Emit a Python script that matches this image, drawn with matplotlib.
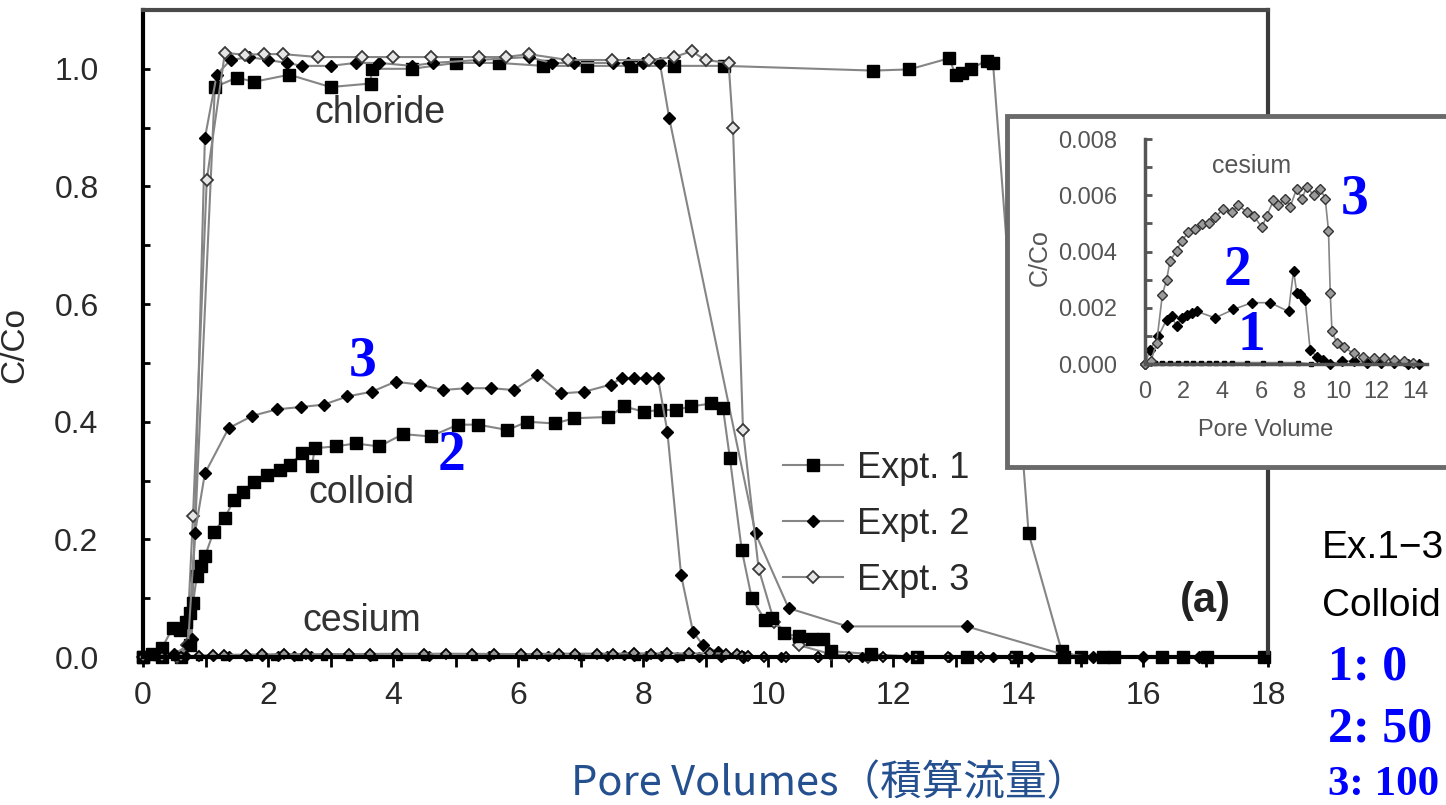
import matplotlib
matplotlib.use('Agg')
import matplotlib.pyplot as plt
from matplotlib.patches import Rectangle
from matplotlib.ticker import MultipleLocator

plt.rcParams['font.family'] = ['Liberation Sans', 'DejaVu Sans']

# ---- main plot data ----
# chloride
cl1_x = [0, 0.3, 0.6, 0.75, 1.15, 1.5, 1.78, 2.34, 3.0, 3.64, 3.66, 4.3, 5.0, 5.7, 6.4, 7.1, 7.8, 8.5, 9.3,
         11.68, 12.26, 12.9, 13.0, 13.11, 13.24, 13.5, 13.6, 14.17, 14.7, 15.0, 15.36, 15.53, 16.31, 16.64, 17.02, 17.94]
cl1_y = [0, 0, 0, 0.02, 0.969, 0.985, 0.978, 0.99, 0.969, 0.975, 1.0, 1.0, 1.01, 1.01, 1.005, 1.005, 1.005, 1.005, 1.005,
         0.997, 0.999, 1.018, 0.99, 0.993, 1.0, 1.014, 1.01, 0.21, 0.01, 0, 0, 0, 0, 0, 0, 0]
cl2_x = [0, 0.3, 0.6, 0.78, 0.99, 1.18, 1.4, 1.7, 2.0, 2.3, 2.55, 3.0, 3.4, 3.78, 4.3, 4.64, 5.37, 6.17, 6.54, 6.9,
         7.52, 7.76, 8.0, 8.27, 8.42, 9.8, 10.33, 11.27, 13.18, 14.7, 15.2, 16.0, 16.9]
cl2_y = [0, 0, 0, 0.03, 0.882, 0.99, 1.015, 1.02, 1.015, 1.01, 1.005, 1.005, 1.01, 1.01, 1.005, 1.01, 1.015, 1.02, 1.01, 1.01,
         1.01, 1.01, 1.01, 1.01, 0.916, 0.21, 0.083, 0.052, 0.052, 0.005, 0, 0, 0]
cl3_x = [0, 0.3, 0.55, 0.7, 0.8, 1.02, 1.31, 1.63, 1.94, 2.24, 2.8, 3.5, 4.0, 4.6, 5.37, 5.8, 6.17, 6.8, 7.5, 8.1,
         8.5, 8.78, 9.0, 9.37, 9.44, 9.6, 9.85, 10.1, 10.5, 11.0, 11.6]
cl3_y = [0, 0, 0, 0.02, 0.239, 0.811, 1.027, 1.024, 1.025, 1.025, 1.02, 1.02, 1.02, 1.02, 1.02, 1.02, 1.025, 1.015, 1.015, 1.015,
         1.02, 1.03, 1.015, 1.01, 0.899, 0.386, 0.15, 0.06, 0.02, 0.005, 0]

# colloid (lower curve, squares / upper curve, filled diamonds)
col_lo_x = [0.0, 0.15, 0.3, 0.48, 0.59, 0.68, 0.75, 0.8, 0.86, 0.93, 0.99, 1.13, 1.31, 1.45, 1.6, 1.77, 1.98, 2.19, 2.35,
            2.54, 2.7, 2.75, 3.08, 3.4, 3.78, 4.16, 4.6, 5.04, 5.36, 5.83, 6.15, 6.59, 6.9, 7.44, 7.7, 8.01, 8.27, 8.52,
            8.77, 9.09, 9.28, 9.39, 9.58, 9.74, 9.95, 10.06, 10.25, 10.5, 10.7, 10.88, 11.0, 11.64, 12.39, 13.18, 13.96, 14.74]
col_lo_y = [0, 0.005, 0.015, 0.05, 0.046, 0.06, 0.075, 0.091, 0.137, 0.155, 0.171, 0.213, 0.236, 0.267, 0.281, 0.298, 0.31,
            0.318, 0.327, 0.346, 0.324, 0.355, 0.358, 0.363, 0.358, 0.379, 0.375, 0.395, 0.395, 0.386, 0.40, 0.397, 0.406,
            0.408, 0.426, 0.417, 0.42, 0.42, 0.426, 0.431, 0.423, 0.338, 0.182, 0.1, 0.063, 0.066, 0.04, 0.035, 0.03,
            0.03, 0.01, 0.005, 0, 0, 0, 0]
col_hi_x = [0, 0.3, 0.5, 0.72, 0.83, 0.99, 1.37, 1.75, 2.14, 2.52, 2.89, 3.27, 3.66, 4.04, 4.43, 4.8, 5.18, 5.56, 5.93,
            6.31, 6.68, 7.06, 7.48, 7.66, 7.86, 8.05, 8.24, 8.39, 8.61, 8.8, 8.96, 9.2, 9.6]
col_hi_y = [0, 0, 0.005, 0.02, 0.21, 0.312, 0.389, 0.41, 0.421, 0.425, 0.429, 0.443, 0.451, 0.468, 0.463, 0.454, 0.457,
            0.457, 0.454, 0.48, 0.448, 0.451, 0.463, 0.474, 0.474, 0.474, 0.474, 0.383, 0.139, 0.043, 0.02, 0.008, 0]

# cesium (inset scale)
cs1_x = [0.0, 0.2, 0.5, 0.9, 1.3, 1.7, 2.1, 2.5, 2.9, 3.3, 3.7, 4.1, 4.5, 5.3, 6.1, 7.0, 7.9, 8.6]
cs1_y = [0, 0.00005, 0.00005, 0.00005, 0.00005, 0.00005, 0.00005, 0.00005, 0.00005, 0.00005, 0.00005, 0.00005,
         0.00005, 0.00005, 0.00005, 0.00005, 0.00005, 0]
cs2_x = [0, 0.26, 0.69, 1.12, 1.38, 1.64, 1.9, 2.16, 2.42, 2.68, 3.63, 4.58, 5.53, 6.48, 7.43, 7.69, 7.86, 8.04, 8.29,
         8.55, 8.9, 9.24, 9.6, 10.2, 10.8, 11.5, 12.2, 12.9, 13.6, 14.2]
cs2_y = [0, 0.0005, 0.00098, 0.00158, 0.0017, 0.00134, 0.00164, 0.00176, 0.00182, 0.00187, 0.00164, 0.00194, 0.00218,
         0.00218, 0.00187, 0.00331, 0.00253, 0.0025, 0.00229, 0.0005, 0.00026, 0.00015, 0, 0.0001, 0.0001, 0.00005,
         0.00005, 0.00005, 0, 0]
cs3_x = [0, 0.3, 0.6, 0.9, 1.12, 1.3, 1.64, 1.9, 2.25, 2.6, 2.94, 3.29, 3.63, 4.06, 4.5, 4.84, 5.27, 5.62, 6.05, 6.31,
         6.65, 6.91, 7.26, 7.52, 7.86, 8.12, 8.38, 8.73, 9.07, 9.33, 9.5, 9.59, 9.68, 9.93, 10.28, 10.8, 11.3, 11.84,
         12.36, 12.88, 13.4, 13.9]
cs3_y = [0, 0.0001, 0.00074, 0.00247, 0.003, 0.00367, 0.00403, 0.00438, 0.00468, 0.0048, 0.00498, 0.005, 0.00522,
         0.00552, 0.0054, 0.00564, 0.0054, 0.00528, 0.00486, 0.00528, 0.00582, 0.00564, 0.00588, 0.0056, 0.00624,
         0.00588, 0.0063, 0.006, 0.00624, 0.00588, 0.00474, 0.00253, 0.00116, 0.00074, 0.0006, 0.00038, 0.00026,
         0.0002, 0.0002, 0.00015, 0.0001, 0.00004]

legend_labels = ['Expt. 1', 'Expt. 2', 'Expt. 3']
x_ticks = [0, 2, 4, 6, 8, 10, 12, 14, 16, 18]
y_ticks = [0.0, 0.2, 0.4, 0.6, 0.8, 1.0]
in_x_ticks = [0, 2, 4, 6, 8, 10, 12, 14]
in_y_ticks = [0.0, 0.002, 0.004, 0.006, 0.008]
conc_lines = ['1: 0', '2: 50', '3: 100']

W, H = 1446, 805
def fp(x, y):  # pixel -> figure fraction
    return x / W, 1 - y / H

line_kw = dict(color='#858585', lw=1.5)
st1 = dict(marker='s', ms=9, mfc='black', mec='black')
st2 = dict(marker='D', ms=6, mfc='black', mec='black')
st3 = dict(marker='D', ms=6.5, mfc='#e6e6e6', mec='#3a3a3a', mew=1.3)

fig = plt.figure(figsize=(14.46, 8.05), dpi=100)
ax = fig.add_axes([143 / W, 148 / H, 1125 / W, 647 / H])

ax.plot(cl1_x, cl1_y, label=legend_labels[0], clip_on=False, **line_kw, **st1)
ax.plot(cl2_x, cl2_y, label=legend_labels[1], clip_on=False, **line_kw, **st2)
ax.plot(cl3_x, cl3_y, label=legend_labels[2], clip_on=False, **line_kw, **st3)
ax.plot(col_lo_x, col_lo_y, clip_on=False, **line_kw, **st1)
ax.plot(col_hi_x, col_hi_y, clip_on=False, **line_kw, **st2)
ax.plot(cs1_x, cs1_y, clip_on=False, **line_kw, **dict(st1, ms=5))
ax.plot(cs2_x, cs2_y, clip_on=False, **line_kw, **dict(st2, ms=5))
ax.plot(cs3_x, cs3_y, clip_on=False, **line_kw, **dict(st3, ms=5, mfc='#999999', mec='black'))

ax.set_xlim(0, 18)
ax.set_ylim(0, 1.1)
ax.set_xticks(x_ticks)
ax.set_xticklabels([str(v) for v in x_ticks])
ax.xaxis.set_minor_locator(MultipleLocator(1))
ax.set_yticks(y_ticks)
ax.set_yticklabels(['%.1f' % v for v in y_ticks])
ax.yaxis.set_minor_locator(MultipleLocator(0.1))
ax.tick_params(axis='x', which='both', direction='out', length=7, width=2, labelsize=23,
               labelcolor='#2a2a2a', pad=10)
ax.tick_params(axis='y', which='both', direction='in', length=5, width=2, labelsize=23,
               labelcolor='#2a2a2a', pad=32)
for s in ['left', 'bottom']:
    ax.spines[s].set_linewidth(3)
    ax.spines[s].set_color('black')
ax.spines['top'].set_linewidth(3)
ax.spines['top'].set_color('#4a4a4a')
ax.spines['right'].set_linewidth(3)
ax.spines['right'].set_color('#3a3a3a')

ax.set_ylabel('C/Co', fontsize=24, color='#2a2a2a')
ax.yaxis.set_label_coords((30 - 143) / 1125, (657 - 345) / 647)
ax.set_xlabel('Pore Volumes（積算流量）', fontsize=30, color='#24508f',
              family=['Noto Sans CJK JP', 'DejaVu Sans'])
ax.xaxis.label.set_va('center')
ax.xaxis.set_label_coords((830 - 143) / 1125, (657 - 783) / 647)

ax.text(3.79, 0.925, 'chloride', fontsize=27, color='#333333', ha='center', va='center')
ax.text(3.5, 0.279, 'colloid', fontsize=27, color='#333333', ha='center', va='center')
ax.text(3.5, 0.061, 'cesium', fontsize=27, color='#333333', ha='center', va='center')
ax.text(17.0, 0.095, '(a)', fontsize=30, fontweight='bold', color='#222222', ha='center', va='center')

ax.legend(loc='upper left', bbox_to_anchor=((783 - 143) / 1125, (657 - 451) / 647),
          frameon=False, fontsize=26, handlelength=1.65, handletextpad=0.4,
          labelspacing=0.58, borderpad=0, borderaxespad=0, labelcolor='#2a2a2a')

# ---- inset ----
x0, y0 = fp(1007, 467)
box = Rectangle((x0, y0), (1455 - 1007) / W, (467 - 116) / H, transform=fig.transFigure,
                facecolor='white', edgecolor='#6a6a6a', lw=3.5, zorder=2)
fig.add_artist(box)

axi = fig.add_axes([1145 / W, 1 - 364 / H, 282 / W, 225 / H], zorder=3)
axi.patch.set_visible(False)
axi.plot(cs1_x, cs1_y, clip_on=False, **dict(line_kw, lw=1.2), **dict(st1, ms=3.5))
axi.plot(cs2_x, cs2_y, clip_on=False, **dict(line_kw, lw=1.2), **dict(st2, ms=5))
axi.plot(cs3_x, cs3_y, clip_on=False, **dict(line_kw, lw=1.2), **dict(st3, ms=5.5, mfc='#9a9a9a', mec='#333333', mew=1.0))
axi.set_xlim(0, 14.6)
axi.set_ylim(0, 0.008)
axi.set_xticks(in_x_ticks)
axi.set_xticklabels([str(v) for v in in_x_ticks])
axi.set_yticks(in_y_ticks)
axi.set_yticklabels(['%.3f' % v for v in in_y_ticks])
axi.yaxis.set_minor_locator(MultipleLocator(0.001))
axi.tick_params(axis='x', length=0, labelsize=17, labelcolor='#555555', pad=12)
axi.tick_params(axis='y', which='both', direction='in', length=5, width=2, color='#555555',
                labelsize=17, labelcolor='#555555', pad=20)
for s in ['top', 'right']:
    axi.spines[s].set_visible(False)
for s in ['left', 'bottom']:
    axi.spines[s].set_color('#555555')
    axi.spines[s].set_linewidth(2.5)
axi.set_xlabel('Pore Volume', fontsize=17, color='#555555')
axi.xaxis.label.set_va('center')
axi.xaxis.set_label_coords((1266 - 1145) / 282, (364 - 430) / 225)
axi.set_ylabel('C/Co', fontsize=18, color='#555555')
axi.yaxis.label.set_va('center')
axi.yaxis.set_label_coords((1040 - 1145) / 282, (364 - 258) / 225)
fig.text(*fp(1252, 166), 'cesium', fontsize=18, color='#555555', ha='center', va='center', zorder=4)

# ---- blue annotations ----
blue = dict(family='Liberation Serif', fontweight='bold', color='#0000ff', ha='center', va='center', zorder=5)
fig.text(*fp(363, 361), '3', fontsize=40, **blue)
fig.text(*fp(452, 456), '2', fontsize=40, **blue)
fig.text(*fp(1355, 200), '3', fontsize=40, **blue)
fig.text(*fp(1237, 271), '2', fontsize=40, **blue)
fig.text(*fp(1251, 336), '1', fontsize=40, **blue)

# side note (shrunk slightly so it stays inside the canvas)
fig.text(*fp(1322, 548), 'Ex.1−3', fontsize=28, color='black', ha='left', va='center')
fig.text(*fp(1322, 606), 'Colloid', fontsize=28, color='black', ha='left', va='center')
for s, yy, fs in zip(conc_lines, [667, 729, 785], [36, 36, 31]):
    fig.text(*fp(1328, yy), s, fontsize=fs, family='Liberation Serif', fontweight='bold',
             color='#0000ff', ha='left', va='center')

fig.savefig('out.png', dpi=100)
